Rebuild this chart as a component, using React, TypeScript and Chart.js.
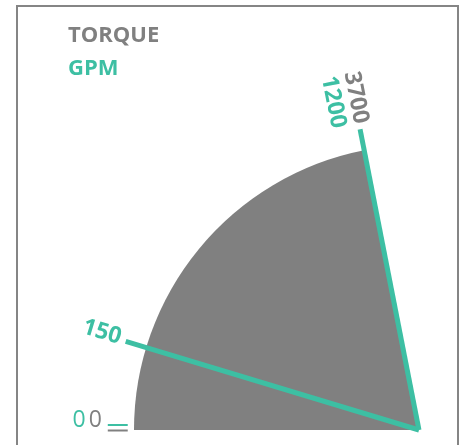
import React, { useEffect, useRef } from "react";
import { Chart, registerables } from "chart.js";

Chart.register(...registerables);

// ---- data ----
const seriesNames = ["TORQUE", "GPM"];
const torqueValue = 3700;
const torqueScaleMax = 4220; // full quarter-circle value
const torqueTicks = [0, 3700];
const gpmTicks = [0, 150, 1200];
const gpmTickFractions = [0, 0.213, 1]; // position of tick along the torque sweep
const gpmNeedles = [150, 1200];

const TEAL = "#3dbfa3";
const GRAY = "#808080";
const FONT = "'Open Sans', 'DejaVu Sans', sans-serif";

function gpmFraction(v: number): number {
  for (let i = 1; i < gpmTicks.length; i++) {
    if (v <= gpmTicks[i]) {
      const t = (v - gpmTicks[i - 1]) / (gpmTicks[i] - gpmTicks[i - 1]);
      return gpmTickFractions[i - 1] + t * (gpmTickFractions[i] - gpmTickFractions[i - 1]);
    }
  }
  return 1;
}

const gaugePlugin = {
  id: "gauge",
  afterDatasetsDraw(chart: any) {
    const ctx: CanvasRenderingContext2D = chart.ctx;
    const arc = chart.getDatasetMeta(0).data[0];
    const { x: cx, y: cy, outerRadius: r, startAngle: a0, endAngle: a1 } = arc.getProps(
      ["x", "y", "outerRadius", "startAngle", "endAngle"],
      true
    );
    const torqueAngle = (v: number) => a0 + (v / torqueValue) * (a1 - a0);
    const gpmAngle = (v: number) => a0 + gpmFraction(v) * (a1 - a0);

    ctx.save();
    // needles
    ctx.strokeStyle = TEAL;
    ctx.lineWidth = 5;
    ctx.lineCap = "butt";
    gpmNeedles.forEach((v) => {
      const a = gpmAngle(v);
      ctx.beginPath();
      ctx.moveTo(cx, cy);
      ctx.lineTo(cx + Math.cos(a) * r * 1.075, cy + Math.sin(a) * r * 1.075);
      ctx.stroke();
    });

    // zero ticks
    const zeroA = a0;
    const drawTick = (color: string, off: number) => {
      ctx.save();
      ctx.translate(cx, cy);
      ctx.rotate(zeroA + Math.PI);
      ctx.strokeStyle = color;
      ctx.lineWidth = 2;
      ctx.beginPath();
      ctx.moveTo(-r * 1.022, off);
      ctx.lineTo(-r * 1.092, off);
      ctx.stroke();
      ctx.restore();
    };
    drawTick(TEAL, -5);
    drawTick(GRAY, 0.5);

    // labels
    const labelR = r * 1.095;
    ctx.font = `bold 23px ${FONT}`;
    ctx.textBaseline = "middle";
    ctx.textAlign = "right";
    const drawLabel = (text: string, a: number, color: string, off: number, rad = labelR) => {
      ctx.save();
      ctx.translate(cx + Math.cos(a) * rad, cy + Math.sin(a) * rad);
      ctx.rotate(a + Math.PI);
      ctx.fillStyle = color;
      ctx.fillText(text, 0, off);
      ctx.restore();
    };
    // end labels: torque stacked above gpm
    const tMax = torqueTicks[torqueTicks.length - 1];
    const gMax = gpmTicks[gpmTicks.length - 1];
    drawLabel(String(tMax), torqueAngle(tMax), GRAY, -2);
    drawLabel(String(gMax), gpmAngle(gMax), TEAL, 21);
    // intermediate gpm labels
    gpmTicks.slice(1, -1).forEach((v) => drawLabel(String(v), gpmAngle(v), TEAL, -2));
    // zero labels side by side
    ctx.font = `23px ${FONT}`;
    const zr = r * 1.113;
    drawLabel(String(torqueTicks[0]), torqueAngle(torqueTicks[0]), GRAY, -10, zr);
    const w = ctx.measureText(String(torqueTicks[0])).width;
    drawLabel(String(gpmTicks[0]), gpmAngle(gpmTicks[0]), TEAL, -10, zr + w + 3);
    ctx.restore();
  },
};

export default function App() {
  const canvasRef = useRef<HTMLCanvasElement | null>(null);

  useEffect(() => {
    if (!canvasRef.current) return;
    const chart = new Chart(canvasRef.current, {
      type: "pie",
      data: {
        labels: [seriesNames[0], ""],
        datasets: [
          {
            data: [torqueValue, torqueScaleMax - torqueValue],
            backgroundColor: [GRAY, "rgba(0,0,0,0)"],
            borderWidth: 0,
          },
        ],
      },
      options: {
        animation: false,
        responsive: true,
        maintainAspectRatio: false,
        rotation: -90,
        circumference: 90,
        radius: 285,
        layout: { padding: { left: 134, right: 44, top: 145, bottom: 15 } },
        plugins: { legend: { display: false }, tooltip: { enabled: false } },
      } as any,
      plugins: [gaugePlugin],
    });
    return () => chart.destroy();
  }, []);

  return (
    <div>
      <div
        style={{
          position: "absolute",
          left: 16,
          top: 5,
          width: 443,
          height: 470,
          border: "2px solid #858585",
          boxSizing: "border-box",
        }}
      />
      <div style={{ position: "absolute", left: 0, top: 0, width: 463, height: 445 }}>
        <canvas ref={canvasRef} />
      </div>
      <div
        style={{
          position: "absolute",
          left: 68,
          top: 17,
          fontFamily: FONT,
          fontWeight: 700,
          fontSize: 22,
          lineHeight: "33px",
        }}
      >
        <div style={{ color: GRAY }}>{seriesNames[0]}</div>
        <div style={{ color: TEAL }}>{seriesNames[1]}</div>
      </div>
    </div>
  );
}
